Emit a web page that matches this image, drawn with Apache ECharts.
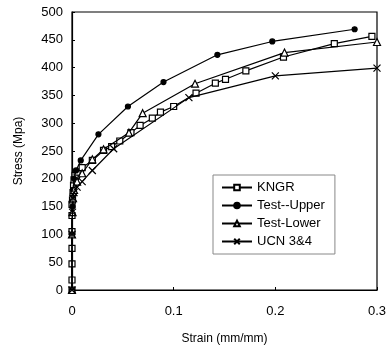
<!DOCTYPE html>
<html><head><meta charset="utf-8">
<script src="https://cdn.jsdelivr.net/npm/echarts@6/dist/echarts.min.js"></script>
<style>html,body{margin:0;padding:0;background:#fff}#c{width:392px;height:350px}</style>
</head><body><div id="c"></div>
<script>
var seriesNames = ["KNGR", "Test--Upper", "Test-Lower", "UCN 3&4"];
var kngrStrain = [0,0,0,0,0,0,0,0.0005,0.001,0.0015,0.002,0.003,0.005,0.01,0.02,0.031,0.039,0.047,0.058,0.067,0.079,0.087,0.1,0.122,0.141,0.151,0.171,0.208,0.258,0.295];
var kngrStress = [0,18,47,75,105,134,154,162,175,188,198,206,212,220,233,251,258,268,283,296,309,320,330,354,372,379,394,419,443,456];
var upperStrain = [0,0,0.0005,0.001,0.002,0.004,0.0086,0.026,0.055,0.09,0.143,0.197,0.278];
var upperStress = [0,100,150,180,200,215,233,280,330,374,423,447,469];
var lowerStrain = [0,0,0.0005,0.001,0.002,0.005,0.01,0.02,0.031,0.056,0.0695,0.121,0.209,0.3];
var lowerStress = [0,100,140,165,180,195,210,235,253,283,318,371,427,446];
var ucnStrain = [0,0,0.0005,0.001,0.002,0.005,0.01,0.02,0.041,0.115,0.2,0.3];
var ucnStress = [0,100,140,165,175,185,195,215,254,346,385,399];
var xTicks = [0, 0.1, 0.2, 0.3];
var yTicks = [0,50,100,150,200,250,300,350,400,450,500];

function pairs(xs, ys){ return xs.map(function(x,i){ return [x, ys[i]]; }); }

var symbols = ['rect', 'circle', 'triangle', 'path://M0,0L10,10M10,0L0,10'];
var symSizes = [6, 5, 7, 7];
var fills = ['#fff', '#000', '#fff', '#000'];
var dataSets = [pairs(kngrStrain,kngrStress), pairs(upperStrain,upperStress), pairs(lowerStrain,lowerStress), pairs(ucnStrain,ucnStress)];

var series = seriesNames.map(function(n, i){
  return {
    name: n, type: 'line', data: dataSets[i],
    symbol: symbols[i], symbolSize: symSizes[i], showAllSymbol: true,
    lineStyle: {color: '#000', width: 1.2},
    itemStyle: {color: fills[i], borderColor: '#000', borderWidth: 1.2},
    animation: false, z: 3 + i
  };
});

var chart = echarts.init(document.getElementById('c'), null, {renderer: 'canvas'});
chart.setOption({
  animation: false,
  backgroundColor: '#fff',
  grid: {left: 72, right: 15, top: 12, bottom: 59, show: true, borderColor: '#000', borderWidth: 1.2},
  textStyle: {fontFamily: 'Liberation Sans, Arial, sans-serif', color: '#000'},
  legend: {
    data: seriesNames, orient: 'vertical', left: 213, top: 175, width: 120,
    itemWidth: 30, itemHeight: 7, itemGap: 5,
    padding: [6, 10, 6, 8],
    borderColor: '#888', borderWidth: 1, backgroundColor: '#fff',
    textStyle: {fontSize: 13, color: '#000', fontFamily: 'Liberation Sans, Arial, sans-serif'}
  },
  xAxis: {
    type: 'value', min: 0, max: 0.3, interval: 0.1,
    name: 'Strain (mm/mm)', nameLocation: 'middle', nameGap: 43,
    nameTextStyle: {fontSize: 12, color: '#000'},
    axisLine: {show: true, lineStyle: {color: '#000', width: 1.2}},
    axisTick: {show: true, inside: true, length: 3, lineStyle: {color: '#000'}},
    axisLabel: {fontSize: 13, color: '#000', margin: 15, formatter: function(v){ return xTicks.indexOf(+v.toFixed(1)) >= 0 ? String(+v.toFixed(1)) : ''; }},
    splitLine: {show: false}
  },
  yAxis: {
    type: 'value', min: 0, max: 500, interval: 50,
    name: 'Stress (Mpa)', nameLocation: 'middle', nameGap: 47,
    nameTextStyle: {fontSize: 12, color: '#000'},
    axisLine: {show: true, lineStyle: {color: '#000', width: 1.2}},
    axisTick: {show: true, inside: true, length: 3, lineStyle: {color: '#000'}},
    axisLabel: {fontSize: 13, color: '#000', margin: 9},
    splitLine: {show: false}
  },
  series: series
});
</script></body></html>
